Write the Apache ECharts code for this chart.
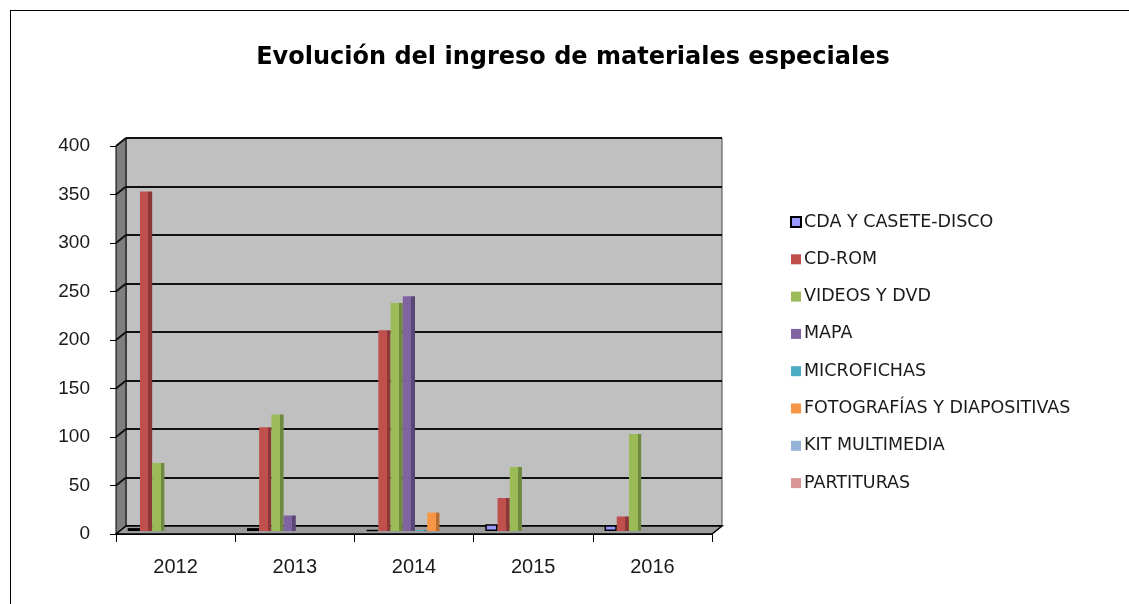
<!DOCTYPE html>
<html>
<head>
<meta charset="utf-8">
<script src="https://cdn.jsdelivr.net/npm/echarts@6/dist/echarts.min.js"></script>
<style>
  html, body { margin: 0; padding: 0; background: #fff; }
  #frame { position: absolute; left: 10px; top: 10px; width: 1129px; height: 600px;
           border-top: 1px solid #000; border-left: 1px solid #000; }
  #chart { position: absolute; left: 0; top: 0; width: 1129px; height: 604px; }
</style>
</head>
<body>
<div id="frame"></div>
<div id="chart"></div>
<script>
  'use strict';

  var years = ['2012', '2013', '2014', '2015', '2016'];
  var seriesNames = ['CDA Y CASETE-DISCO', 'CD-ROM', 'VIDEOS Y DVD', 'MAPA', 'MICROFICHAS',
    'FOTOGRAFÍAS Y DIAPOSITIVAS', 'KIT MULTIMEDIA', 'PARTITURAS'];
  var cdaDisco = [3, 3, 1, 7, 6];
  var cdRom = [350, 107, 207, 34, 15];
  var videosDvd = [70, 120, 235, 66, 100];
  var mapa = [0, 16, 242, 0, 0];
  var microfichas = [0, 0, 1, 0, 0];
  var fotografias = [0, 0, 19, 0, 0];
  var kitMultimedia = [0, 0, 0, 0, 0];
  var partituras = [0, 0, 0, 0, 0];
  var yTicks = [0, 50, 100, 150, 200, 250, 300, 350, 400];

  var seriesValues = [cdaDisco, cdRom, videosDvd, mapa, microfichas, fotografias, kitMultimedia, partituras];
  var colors = ['#9999ff', '#c0504d', '#9bbb59', '#8064a2', '#4bacc6', '#f79646', '#95b3d7', '#d99694'];
  var sideColors = ['#6f6fc0', '#8c3836', '#6f8a3e', '#5b4776', '#357d90', '#b86d30', '#6b85a3', '#a06c6b'];

  // front face of the 3D box, and the depth shift to the back wall
  var front = { left: 116, top: 146, width: 596, height: 388 };
  var depthX = 10, depthY = -8;
  var yMin = yTicks[0], yMax = yTicks[yTicks.length - 1];

  function faceColor(i) {
    // fake a 3D side face with a hard colour stop
    return new echarts.graphic.LinearGradient(0, 0, 1, 0, [
      { offset: 0, color: colors[i] },
      { offset: 0.7, color: colors[i] },
      { offset: 0.7, color: sideColors[i] },
      { offset: 1, color: sideColors[i] }
    ]);
  }

  function frontY(v) {
    return front.top + front.height * (1 - (v - yMin) / (yMax - yMin));
  }

  var fl = front.left, fr = front.left + front.width, fb = front.top + front.height, ft = front.top;

  var walls = [
    { // left side wall
      type: 'polygon', z: 1,
      shape: { points: [[fl, ft], [fl + depthX, ft + depthY], [fl + depthX, fb + depthY], [fl, fb]] },
      style: { fill: '#7f7f7f', stroke: '#000', lineWidth: 1 }
    },
    { // floor
      type: 'polygon', z: 1,
      shape: { points: [[fl, fb], [fl + depthX, fb + depthY], [fr + depthX, fb + depthY], [fr, fb]] },
      style: { fill: '#9c9c9c', stroke: '#000', lineWidth: 1.5 }
    }
  ];
  yTicks.forEach(function (v) {
    if (v === yMin) return;
    var y = frontY(v);
    walls.push({
      type: 'line', z: 1,
      shape: { x1: fl, y1: y, x2: fl + depthX, y2: y + depthY },
      style: { stroke: '#111', lineWidth: 2 }
    });
  });

  var chart = echarts.init(document.getElementById('chart'));

  var series = seriesNames.map(function (name, i) {
    return {
      name: name,
      type: 'bar',
      xAxisIndex: 1,
      yAxisIndex: 1,
      data: seriesValues[i],
      barGap: '0%',
      barCategoryGap: '18%',
      itemStyle: i === 0
        ? { color: colors[0], borderColor: '#000', borderWidth: 1.5 }
        : { color: faceColor(i) }
    };
  });

  chart.setOption({
    animation: false,
    color: colors,
    title: {
      text: 'Evolución del ingreso de materiales especiales',
      left: 568,
      top: 41,
      textAlign: 'center',
      textStyle: { fontFamily: 'DejaVu Sans', fontSize: 24, fontWeight: 'bold', color: '#000' }
    },
    legend: {
      orient: 'vertical',
      left: 790,
      top: 213,
      padding: 0,
      itemGap: 19.3,
      itemWidth: 10,
      itemHeight: 10,
      icon: 'rect',
      data: seriesNames.map(function (n, i) {
        return i === 0
          ? { name: n, itemStyle: { color: colors[0], borderColor: '#000', borderWidth: 2 } }
          : { name: n, itemStyle: { color: colors[i] } };
      }),
      textStyle: { fontFamily: 'DejaVu Sans', fontSize: 17.5, color: '#1a1a1a', padding: [0, 0, 0, -2] }
    },
    graphic: walls,
    grid: [
      { // back wall
        left: front.left + depthX, top: front.top + depthY, width: front.width, height: front.height,
        show: true, backgroundColor: '#c0c0c0', borderWidth: 1, borderColor: '#444'
      },
      { // bars, half way into the box
        left: front.left + 1, top: front.top - 3, width: front.width, height: front.height
      },
      { // front axes
        left: front.left, top: front.top, width: front.width, height: front.height
      }
    ],
    xAxis: [
      { gridIndex: 0, type: 'category', data: years, show: false },
      { gridIndex: 1, type: 'category', data: years, show: false },
      {
        gridIndex: 2,
        type: 'category',
        data: years,
        axisLine: { lineStyle: { color: '#000', width: 1 } },
        axisTick: { show: true, length: 8, lineStyle: { color: '#000' } },
        axisLabel: { fontFamily: 'Liberation Sans', fontSize: 20, color: '#1a1a1a', margin: 23 }
      }
    ],
    yAxis: [
      {
        gridIndex: 0, type: 'value', min: yMin, max: yMax, interval: 50,
        axisLine: { show: false }, axisTick: { show: false }, axisLabel: { show: false },
        splitLine: { lineStyle: { color: '#111', width: 2 } }
      },
      {
        gridIndex: 1, type: 'value', min: yMin, max: yMax, interval: 50, show: false,
        splitLine: { show: false }
      },
      {
        gridIndex: 2,
        type: 'value',
        min: yMin,
        max: yMax,
        interval: 50,
        axisLine: { show: true, lineStyle: { color: '#000', width: 1 } },
        axisTick: { show: true, length: 6, lineStyle: { color: '#000' } },
        axisLabel: { fontFamily: 'Liberation Sans', fontSize: 19, color: '#1a1a1a', margin: 26 },
        splitLine: { show: false }
      }
    ],
    series: series
  });

  window.addEventListener('resize', function () {
    chart.resize();
  });
</script>
</body>
</html>
